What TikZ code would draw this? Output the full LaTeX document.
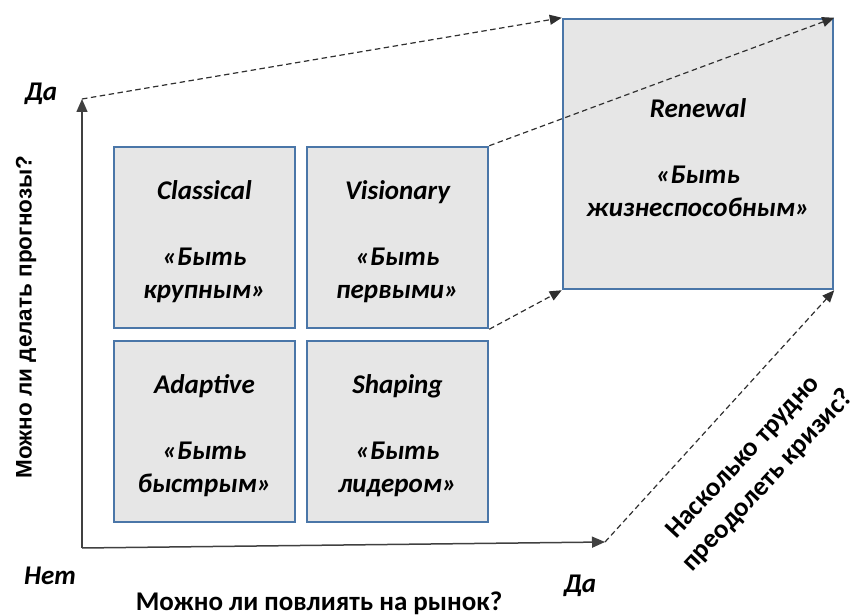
\documentclass[tikz,border=0pt]{standalone}
\usepackage{fontspec}
\setmainfont{Carlito}
\newfontfamily\arialfont{Liberation Sans}
\usetikzlibrary{arrows.meta}
\definecolor{boxfill}{HTML}{E6E6E6}
\definecolor{boxline}{HTML}{4A76A8}
\definecolor{dashcol}{HTML}{303030}
\definecolor{axiscol}{HTML}{404040}
\newcommand{\topstrut}{\rule{0pt}{27pt}}
\tikzset{
  qbox/.style={draw=boxline, fill=boxfill, line width=2.5pt, align=center,
    inner sep=0pt, font=\fontsize{27}{33}\selectfont\bfseries\itshape},
  smallbox/.style={qbox, minimum width=181pt, minimum height=181pt},
  dasharrow/.style={draw=dashcol, line width=1.2pt, dash pattern=on 5.5pt off 3.5pt,
    -{Triangle[length=12pt,width=10pt]}},
  axisarrow/.style={draw=axiscol, line width=1.5pt, -{Triangle[length=13pt,width=11pt]}},
  axlabel/.style={font=\fontsize{27}{33}\selectfont\bfseries\itshape, inner sep=0pt},
  qlabel/.style={font=\fontsize{27}{34}\selectfont\bfseries, inner sep=0pt, align=center}
}
\begin{document}
\begin{tikzpicture}[x=1pt,y=-1pt]
\useasboundingbox (0,0) rectangle (855,615);
% boxes
\node[smallbox] (cl) at (204.5,237.5) {\topstrut Classical\\[33pt]«Быть\\крупным»};
\node[smallbox] (vi) at (397.5,237.5) {\topstrut Visionary\\[33pt]«Быть\\первыми»};
\node[smallbox] (ad) at (204.5,431.5) {\topstrut Adaptive\\[33pt]«Быть\\быстрым»};
\node[smallbox] (sh) at (397.5,431.5) {\topstrut Shaping\\[33pt]«Быть\\лидером»};
\node[qbox, minimum width=270pt, minimum height=270pt] (rn) at (698,154)
  {\topstrut Renewal\\[33pt]«Быть\\жизнеспособным»};
% axes
\coordinate (O) at (82,548);
\coordinate (ytop) at (82,99);
\coordinate (xend) at (605,542);
\draw[axisarrow] (O) -- (ytop);
\draw[axisarrow] (O) -- (xend);
% dashed connectors
\draw[dasharrow] (ytop) -- (rn.north west);
\draw[dasharrow] (vi.north east) -- (rn.north east);
\draw[dasharrow] (vi.south east) -- (rn.south west);
\draw[dasharrow] (xend) -- (rn.south east);
% labels
\node[axlabel] (yyes) at (41,94) {Да};
\node[axlabel] (xno) at (50,576) {Нет};
\node[axlabel] (xyes) at (580,586) {Да};
\node[qlabel] (xq) at (319,603) {Можно ли повлиять на рынок?};
\node[qlabel, rotate=90, font=\fontsize{22.5}{27}\selectfont\arialfont\bfseries] (yq) at (26,317) {Можно ли делать прогнозы?};
\node[qlabel, rotate=47] (zq) at (756,469) {Насколько трудно\\преодолеть кризис?};
\end{tikzpicture}
\end{document}
